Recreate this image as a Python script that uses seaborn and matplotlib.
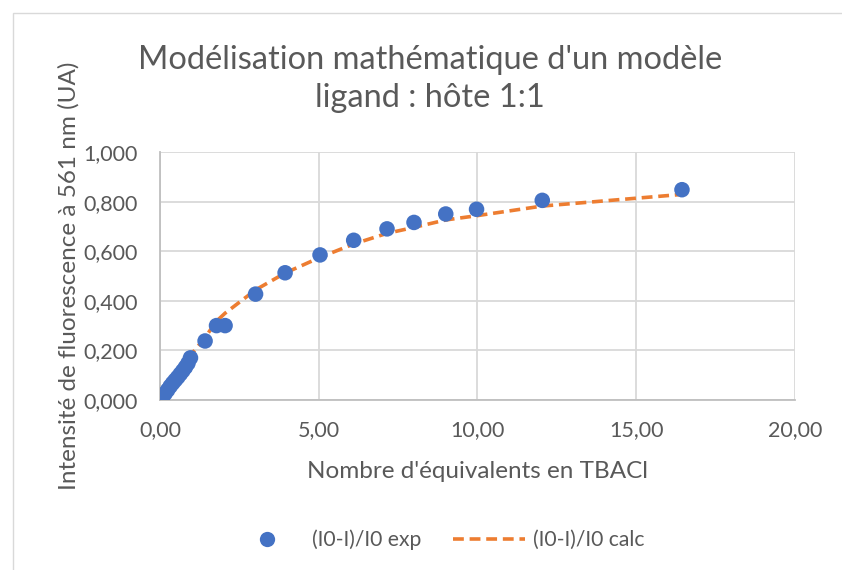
import matplotlib
matplotlib.use("Agg")
import matplotlib.pyplot as plt
from matplotlib.patches import Rectangle
from matplotlib.lines import Line2D
import seaborn as sns
import pandas as pd

# Titration data: equivalents of TBACl vs. relative fluorescence quenching
equivalents = [0.00, 0.08, 0.16, 0.24, 0.32, 0.40, 0.48, 0.56, 0.64, 0.72,
               0.80, 0.88, 0.96, 1.42, 1.78, 2.05, 3.01, 3.94, 5.04, 6.10,
               7.15, 8.00, 9.00, 9.97, 12.04, 16.44]
ratio_exp = [0.000, 0.012, 0.026, 0.040, 0.055, 0.068, 0.080, 0.092, 0.105,
             0.118, 0.132, 0.148, 0.170, 0.238, 0.300, 0.300, 0.427, 0.513,
             0.585, 0.644, 0.690, 0.716, 0.750, 0.769, 0.805, 0.848]
ratio_calc = [0.000, 0.014, 0.029, 0.044, 0.059, 0.073, 0.088, 0.103, 0.118,
              0.133, 0.148, 0.163, 0.180, 0.252, 0.318, 0.350, 0.444, 0.512,
              0.575, 0.629, 0.672, 0.696, 0.726, 0.743, 0.782, 0.829]

x_ticks = [0, 5, 10, 15, 20]
x_tick_labels = ["0,00", "5,00", "10,00", "15,00", "20,00"]
y_ticks = [0.0, 0.2, 0.4, 0.6, 0.8, 1.0]
y_tick_labels = ["0,000", "0,200", "0,400", "0,600", "0,800", "1,000"]

df = pd.DataFrame({"eq": equivalents, "exp": ratio_exp, "calc": ratio_calc})

sns.set_theme(style="white")
plt.rcParams["font.family"] = ["Lato", "DejaVu Sans"]

TEXT = "#595959"
BLUE = "#4472C4"
ORANGE = "#ED7D31"
GRID = "#D9D9D9"

fig = plt.figure(figsize=(8.42, 5.70), dpi=100)
fig.patch.set_facecolor("white")
ax = fig.add_axes([160 / 842, 1 - 400 / 570, 635 / 842, 248 / 570])

# Chart frame
fig.add_artist(Rectangle((13 / 842, -0.05), 1.1, 1 - 13 / 570 + 0.05,
                         transform=fig.transFigure, fill=False,
                         edgecolor="#D9D9D9", linewidth=1.0))

sns.lineplot(data=df, x="eq", y="calc", ax=ax, color=ORANGE, linewidth=2.6,
             sort=False, estimator=None, zorder=2, legend=False)
ax.lines[-1].set_dashes((3.0, 1.6))
ax.lines[-1].set_dash_capstyle("butt")
sns.scatterplot(data=df, x="eq", y="exp", ax=ax, color=BLUE, s=125,
                edgecolor="none", zorder=3, legend=False)

ax.set_xlim(0, 20)
ax.set_ylim(0, 1.0)
ax.set_xticks(x_ticks)
ax.set_xticklabels(x_tick_labels)
ax.set_yticks(y_ticks)
ax.set_yticklabels(y_tick_labels)
ax.tick_params(axis="both", length=0, labelsize=15.5, labelcolor=TEXT)
ax.tick_params(axis="x", pad=14.5)
ax.tick_params(axis="y", pad=16)
ax.grid(True, color=GRID, linewidth=1.3)
ax.set_axisbelow(True)
for side in ["top", "right"]:
    ax.spines[side].set_visible(False)
for side in ["left", "bottom"]:
    ax.spines[side].set_color("#BFBFBF")
    ax.spines[side].set_linewidth(1.3)

ax.set_xlabel("Nombre d'équivalents en TBACl", fontsize=17.5, color=TEXT,
              labelpad=15)
ax.set_ylabel("Intensité de fluorescence à 561 nm (UA)", fontsize=17.5,
              color=TEXT, labelpad=3)

fig.text(430 / 842, 1 - 79 / 570,
         "Modélisation mathématique d'un modèle\nligand : hôte 1:1",
         ha="center", va="center", fontsize=23.5, color=TEXT,
         linespacing=1.3)

handles = [
    Line2D([], [], marker="o", linestyle="none", color=BLUE, markersize=11,
           markeredgecolor="none"),
    Line2D([], [], color=ORANGE, linewidth=2.6, dashes=(3.0, 1.6),
           dash_capstyle="butt"),
]
fig.legend(handles, ["(I0-I)/I0 exp", "(I0-I)/I0 calc"],
           loc="center", bbox_to_anchor=(438 / 842, 1 - 540 / 570), ncol=2,
           frameon=False, fontsize=15.2, labelcolor=TEXT, handlelength=3.4,
           columnspacing=1.5, handletextpad=0.4)

fig.savefig("out.png", dpi=100, facecolor="white")
